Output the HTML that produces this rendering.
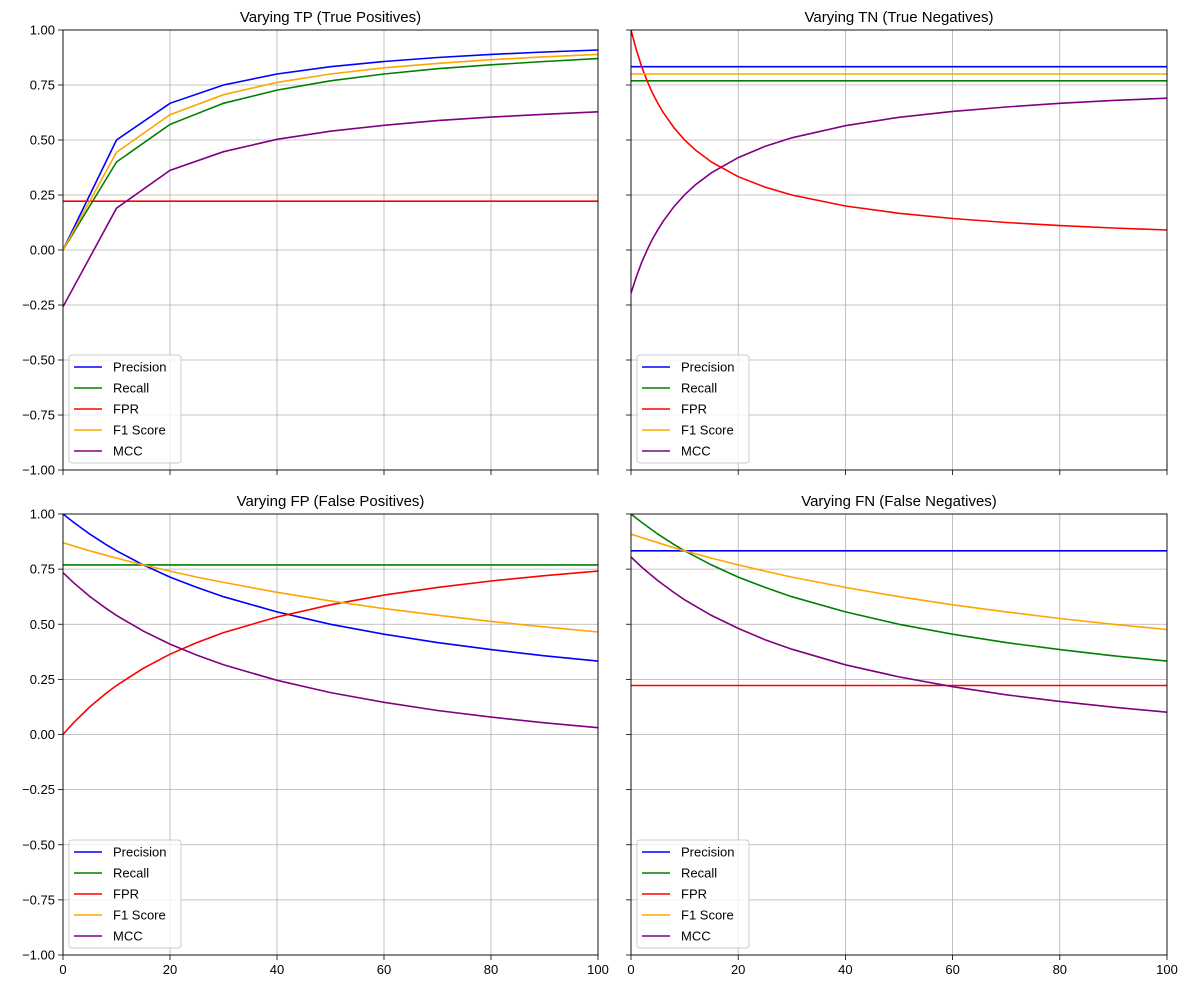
<!DOCTYPE html>
<html><head><meta charset="utf-8"><style>
html,body{margin:0;padding:0;background:#fff;}
svg{display:block;font-family:"Liberation Sans","DejaVu Sans",sans-serif;}
</style></head><body>
<svg id="chart" width="1189" height="989" viewBox="0 0 1189 989" xmlns="http://www.w3.org/2000/svg"></svg>
<script>
const xTicks=[0,20,40,60,80,100];
const yTicks=[-1,-0.75,-0.5,-0.25,0,0.25,0.5,0.75,1];
const yTickLabels=["−1.00","−0.75","−0.50","−0.25","0.00","0.25","0.50","0.75","1.00"];
const seriesNames=["Precision","Recall","FPR","F1 Score","MCC"];
const seriesColors=["#0000ff","#008000","#ff0000","#ffa500","#800080"];
const panelTitles=["Varying TP (True Positives)","Varying TN (True Negatives)","Varying FP (False Positives)","Varying FN (False Negatives)"];

const tpX=[0,10,20,30,40,50,60,70,80,90,100];
const tpPrecision=[0,.5,.667,.75,.8,.833,.857,.875,.889,.9,.909];
const tpRecall=[0,.4,.571,.667,.727,.769,.8,.824,.842,.857,.870];
const tpFPR=[.222,.222,.222,.222,.222,.222,.222,.222,.222,.222,.222];
const tpF1=[0,.444,.615,.706,.762,.8,.828,.848,.865,.878,.889];
const tpMCC=[-.258,.19,.362,.447,.503,.540,.567,.588,.604,.617,.628];

const tnX=[0,1,2,3,4,5,6,8,10,12,15,20,25,30,40,50,60,70,80,90,100];
const tnPrecision=tnX.map(()=>.833);
const tnRecall=tnX.map(()=>.769);
const tnFPR=[1,.909,.833,.769,.714,.667,.625,.556,.5,.455,.4,.333,.286,.25,.2,.167,.143,.125,.111,.1,.0909];
const tnF1=tnX.map(()=>.8);
const tnMCC=[-.196,-.121,-.056,0,.049,.092,.131,.197,.251,.296,.351,.420,.471,.510,.565,.603,.630,.650,.667,.680,.690];

const fpX=[0,2,5,8,10,15,20,25,30,40,50,60,70,80,90,100];
const fpPrecision=[1,.962,.909,.862,.833,.769,.714,.667,.625,.556,.5,.455,.417,.385,.357,.333];
const fpRecall=fpX.map(()=>.769);
const fpFPR=[0,.054,.125,.186,.222,.3,.364,.417,.462,.533,.588,.632,.667,.696,.72,.741];
const fpF1=[.870,.855,.833,.813,.8,.769,.741,.714,.690,.645,.606,.571,.541,.513,.488,.465];
const fpMCC=[.734,.688,.626,.573,.540,.469,.410,.360,.316,.246,.190,.146,.109,.079,.053,.031];

const fnX=[0,2,5,8,10,15,20,25,30,40,50,60,70,80,90,100];
const fnPrecision=fnX.map(()=>.833);
const fnRecall=[1,.962,.909,.862,.833,.769,.714,.667,.625,.556,.5,.455,.417,.385,.357,.333];
const fnFPR=fnX.map(()=>.222);
const fnF1=[.909,.893,.870,.847,.833,.8,.769,.741,.714,.667,.625,.588,.556,.526,.5,.476];
const fnMCC=[.805,.759,.698,.644,.611,.540,.481,.430,.387,.316,.261,.217,.180,.150,.124,.101];

const panelsData=[
 {x:tpX,s:[tpPrecision,tpRecall,tpFPR,tpF1,tpMCC]},
 {x:tnX,s:[tnPrecision,tnRecall,tnFPR,tnF1,tnMCC]},
 {x:fpX,s:[fpPrecision,fpRecall,fpFPR,fpF1,fpMCC]},
 {x:fnX,s:[fnPrecision,fnRecall,fnFPR,fnF1,fnMCC]}
];
const boxes=[[63,30,598,470],[631,30,1167,470],[63,514,598,955],[631,514,1167,955]];
const svg=document.getElementById('chart');
const NS="http://www.w3.org/2000/svg";
function mk(t,a,p){const e=document.createElementNS(NS,t);for(const k in a)e.setAttribute(k,a[k]);(p||svg).appendChild(e);return e;}
const slug=["tp","tn","fp","fn"];
panelsData.forEach((pd,i)=>{
 const [x0,y0,x1,y1]=boxes[i];
 const sx=v=>x0+(v-0)/100*(x1-x0);
 const sy=v=>y1-(v+1)/2*(y1-y0);
 const g=mk('g',{});
 
 
 const clipId='clip'+i;
 const cp=mk('clipPath',{id:clipId},g);mk('rect',{x:x0,y:y0,width:x1-x0,height:y1-y0},cp);
 xTicks.forEach(t=>{
  const l=mk('line',{x1:sx(t),x2:sx(t),y1:y0,y2:y1,stroke:'#b0b0b0','stroke-width':0.8},g);
  
  
  mk('line',{x1:sx(t),x2:sx(t),y1:y1,y2:y1+5,stroke:'#000','stroke-width':0.8},g);
  if(i>=2){const tx=mk('text',{x:sx(t),y:y1+19,'text-anchor':'middle','font-size':13,fill:'#000'},g);tx.textContent=t;
   
   }
 });
 yTicks.forEach((t,j)=>{
  const l=mk('line',{x1:x0,x2:x1,y1:sy(t),y2:sy(t),stroke:'#b0b0b0','stroke-width':0.8},g);
  
  
  mk('line',{x1:x0-5,x2:x0,y1:sy(t),y2:sy(t),stroke:'#000','stroke-width':0.8},g);
  if(i%2===0){const tx=mk('text',{x:x0-8,y:sy(t)+4.5,'text-anchor':'end','font-size':13,fill:'#000'},g);tx.textContent=yTickLabels[j];
   
   }
 });
 pd.s.forEach((vals,k)=>{
  const pts=pd.x.map((xv,m)=>sx(xv).toFixed(1)+','+sy(vals[m]).toFixed(1)).join(' ');
  const pl=mk('polyline',{points:pts,fill:'none',stroke:seriesColors[k],'stroke-width':1.6,'clip-path':'url(#'+clipId+')'},g);
  
  
 });
 mk('rect',{x:x0,y:y0,width:x1-x0,height:y1-y0,fill:'none',stroke:'#000','stroke-width':0.9},g);
 const tt=mk('text',{x:(x0+x1)/2,y:y0-8,'text-anchor':'middle','font-size':15,fill:'#000'},g);
 tt.textContent=panelTitles[i];
 
 
 const lg=mk('g',{},g);
 
 
 mk('rect',{x:x0+6,y:y1-115,width:112,height:108,rx:3,fill:'#fff','fill-opacity':0.8,stroke:'#ccc','stroke-width':1},lg);
 seriesNames.forEach((n,k)=>{
  const yy=y1-103+k*21;
  const e=mk('g',{},lg);
  
  
  mk('line',{x1:x0+11,x2:x0+39,y1:yy,y2:yy,stroke:seriesColors[k],'stroke-width':1.6},e);
  const tx=mk('text',{x:x0+50,y:yy+4.5,'font-size':13,fill:'#000'},e);tx.textContent=n;
 });
});
</script>
</body></html>
